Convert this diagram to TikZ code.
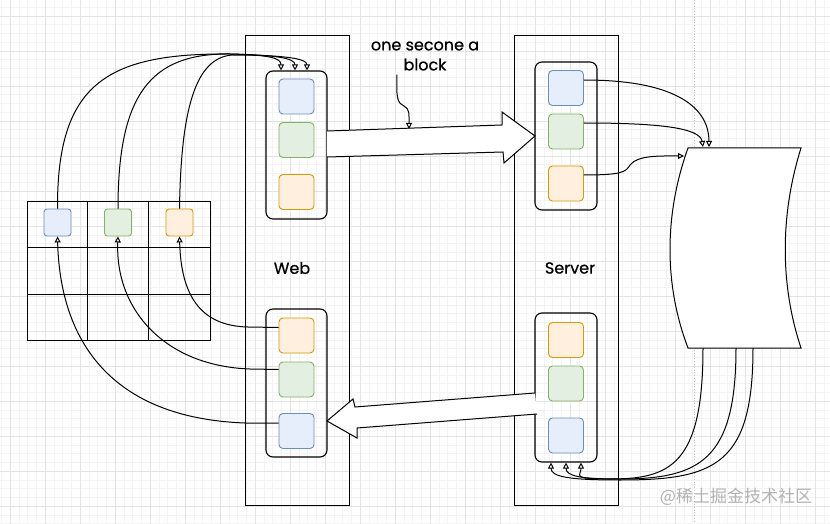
\documentclass[tikz,border=0pt]{standalone}
\usepackage{fontspec}
\setmainfont{Poppins}
\newfontfamily\hand{Poppins}[FakeBold=0.7]
\newfontfamily\cjk{Noto Sans CJK SC}
\usetikzlibrary{arrows.meta}
\definecolor{minorg}{HTML}{F3F3F3}
\definecolor{majorg}{HTML}{E4E4E4}
\definecolor{sblue}{HTML}{6C8EBF}
\definecolor{fblue}{HTML}{E6EEFB}
\definecolor{sgreen}{HTML}{82B366}
\definecolor{fgreen}{HTML}{E3EFE0}
\definecolor{sorange}{HTML}{D79B00}
\definecolor{forange}{HTML}{FFEFDF}
\tikzset{
  col/.style={draw, line width=1pt, minimum width=104pt, minimum height=469pt, inner sep=0pt},
  grp/.style={draw, rounded corners=7pt, line width=1.1pt, minimum width=61pt, minimum height=148pt, inner sep=0pt},
  sq/.style={rounded corners=4pt, minimum width=35pt, minimum height=35pt, inner sep=0pt, line width=0.9pt},
  bsq/.style={sq, draw=sblue, fill=fblue},
  gsq/.style={sq, draw=sgreen, fill=fgreen},
  osq/.style={sq, draw=sorange, fill=forange},
  tsq/.style={rounded corners=3pt, minimum width=27pt, minimum height=27pt, inner sep=0pt, line width=0.9pt},
  link/.style={line width=1pt},
  arr/.style={link, -{Triangle[open,length=6pt,width=6pt]}},
  lbl/.style={font=\hand\fontsize{16}{20}\selectfont, inner sep=0pt},
  block/.style={draw, line width=1pt, fill=white, line join=miter},
}
\begin{document}
\begin{tikzpicture}[x=1pt,y=-1pt]
\useasboundingbox (0,0) rectangle (830,524);
\fill[white] (0,0) rectangle (830,524);
% grid
\foreach \i in {0,...,95} {\draw[minorg, line width=0.5pt] ({1.25+\i*8.75},0) -- ({1.25+\i*8.75},524);}
\foreach \i in {0,...,60} {\draw[minorg, line width=0.5pt] (0,{7.25+\i*8.75}) -- (830,{7.25+\i*8.75});}
\foreach \i in {0,...,23} {\draw[majorg, line width=0.8pt] ({10+\i*35},0) -- ({10+\i*35},524);}
\foreach \i in {0,...,14} {\draw[majorg, line width=0.8pt] (0,{16+\i*35}) -- (830,{16+\i*35});}
\draw[gray!50, dotted, line width=0.8pt] (694,0) -- (694,524);

% columns
\node[col] (web) at (297,270.5) {};
\node[col] (server) at (566,270.5) {};
\node[lbl] (weblbl) at (292,268) {Web};
\node[lbl] (srvlbl) at (570,268) {Server};

% groups
\node[grp] (wtop) at (296.5,145) {};
\node[grp] (wbot) at (296.5,383) {};
\node[grp, minimum width=62pt] (stop) at (566,136) {};
\node[grp, minimum width=62pt, minimum height=149pt] (sbot) at (566,387.5) {};

\node[bsq] (wtb) at (296.5,96.5) {};
\node[gsq] (wtg) at (296.5,140) {};
\node[osq] (wto) at (296.5,192) {};
\node[osq] (wbo) at (296.5,335.5) {};
\node[gsq] (wbg) at (296.5,379.5) {};
\node[bsq] (wbb) at (296.5,431) {};
\node[bsq] (stb) at (566,88) {};
\node[gsq] (stg) at (566,131.5) {};
\node[osq] (sto) at (566,183.5) {};
\node[osq] (sbo) at (566,340) {};
\node[gsq] (sbg) at (566,383.5) {};
\node[bsq] (sbb) at (566,435.5) {};

% table
\node[draw, line width=1pt, minimum width=183pt, minimum height=139pt, inner sep=0pt] (tbl) at (118.5,270.5) {};
\draw[line width=1pt] (27,247) -- (210,247) (27,294) -- (210,294) (87,201) -- (87,340) (148,201) -- (148,340);
\node[tsq, draw=sblue, fill=fblue] (tb) at (57.5,222.5) {};
\node[tsq, draw=sgreen, fill=fgreen] (tg) at (118,222.5) {};
\node[tsq, draw=sorange, fill=forange] (to) at (179.5,222.5) {};

% document shape
\coordinate (dtl) at (688,148);
\coordinate (dtr) at (801,148);
\coordinate (dbr) at (801,348);
\coordinate (dbl) at (688,348);
\draw[line width=1pt, fill=white] (dtl) -- (dtr) .. controls (780,215) and (780,285) .. (dbr) -- (dbl) .. controls (664,285) and (664,215) .. (dtl) -- cycle;

% block arrows
\draw[block] (327,131) -- (502,125) -- (502,112) -- (535,136) -- (504,163) -- (503,152) -- (327,157);
\draw[block] (535,393) -- (355,407) -- (353,399) -- (327,421) -- (357,438) -- (357,428) -- (537,414);

% note
\node[lbl, align=center] (note) at (425,56) {one secone a\\block};
\coordinate (noteend) at (409,129);
\draw[arr] ([xshift=-28pt, yshift=-4pt]note.south) .. controls (396,100) and (398,103) .. (404,106) .. controls (410,109) and (409,115) .. (noteend);

% table -> web top
\draw[arr] (tb.north) .. controls (57,85) and (105,53) .. (230,54) .. controls (270,55) and (281,58) .. ([xshift=-15.5pt]wtop.north);
\draw[arr] (tg.north) .. controls (118,95) and (150,53) .. (230,54) .. controls (275,55) and (295,58) .. ([xshift=-1.5pt]wtop.north);
\draw[arr] (to.north) .. controls (181,110) and (195,58) .. (232,55) .. controls (280,55) and (307,58) .. ([xshift=10.5pt]wtop.north);

% web bottom -> table
\draw[arr] ([yshift=8pt]wbo.west) -- (248,327) .. controls (200,326) and (181,295) .. (to.south);
\draw[arr] ([yshift=10pt]wbg.west) -- (250,369) .. controls (165,366) and (115,310) .. (tg.south);
\draw[arr] ([yshift=8pt]wbb.west) -- (245,423) .. controls (110,418) and (60,340) .. (tb.south);

% server top -> doc
\coordinate (d1) at (709,147);
\coordinate (d2) at (703,147);
\coordinate (d3) at (684,156);
\draw[arr] ([yshift=8pt]stb.east) .. controls (680,80) and (709,110) .. (d1);
\draw[arr] ([yshift=8.5pt]stg.east) .. controls (660,123) and (700,128) .. (d2);
\draw[arr] ([yshift=8.5pt]sto.east) .. controls (622,175) and (626,172) .. (630,165) .. controls (638,155) and (660,156) .. (d3);

% doc -> server bottom
\coordinate (e1) at (703,348);
\coordinate (e2) at (736,348);
\coordinate (e3) at (753,348);
\draw[arr] (e1) .. controls (703,465) and (670,479) .. (610,479) .. controls (570,479) and (581,476) .. ([xshift=15pt]sbot.south);
\draw[arr] (e2) .. controls (736,460) and (700,479) .. (620,479) .. controls (580,479) and (566,476) .. (sbot.south);
\draw[arr] (e3) .. controls (753,465) and (715,480) .. (620,480) .. controls (570,480) and (551,477) .. ([xshift=-15pt]sbot.south);

% watermark
\node[text=gray!60, font=\cjk\fontsize{17}{20}\selectfont, inner sep=0pt] (wm) at (736,497) {@稀土掘金技术社区};
\end{tikzpicture}
\end{document}
